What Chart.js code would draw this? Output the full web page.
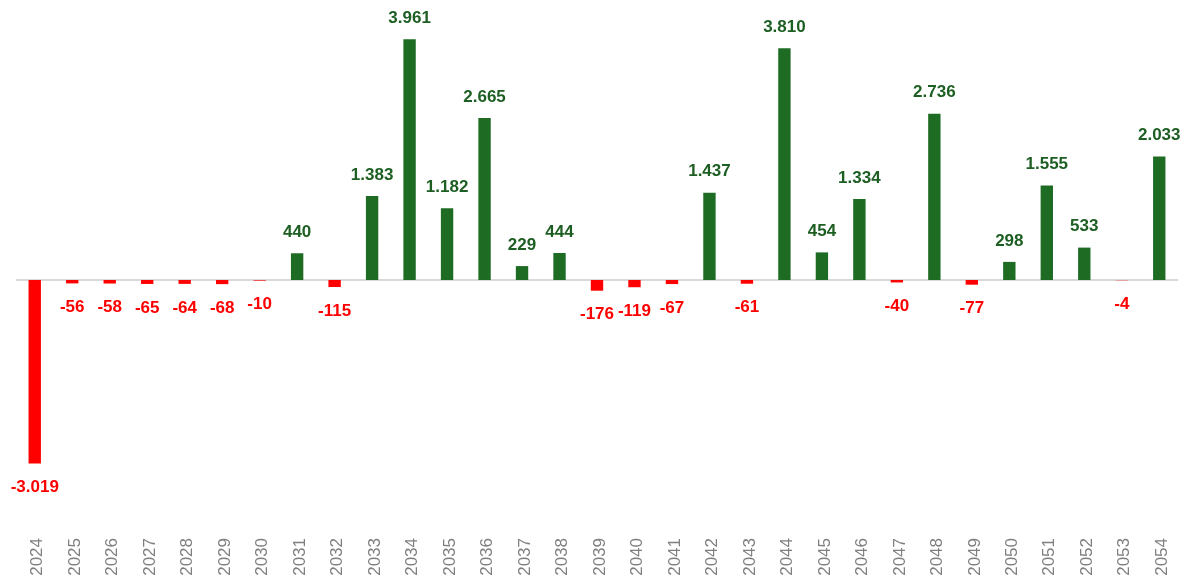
<!DOCTYPE html>
<html>
<head>
<meta charset="utf-8">
<script src="https://cdn.jsdelivr.net/npm/chart.js@4"></script>
<style>
  html, body { margin: 0; padding: 0; background: #ffffff; }
  #wrap { width: 1189px; height: 576px; position: relative; }
</style>
</head>
<body>
<div id="wrap"><canvas id="chart"></canvas></div>
<script>
const years = ['2024', '2025', '2026', '2027', '2028', '2029', '2030', '2031', '2032', '2033',
    '2034', '2035', '2036', '2037', '2038', '2039', '2040', '2041', '2042', '2043',
    '2044', '2045', '2046', '2047', '2048', '2049', '2050', '2051', '2052', '2053', '2054'];

const values = [-3019, -56, -58, -65, -64, -68, -10, 440, -115, 1383,
    3961, 1182, 2665, 229, 444, -176, -119, -67, 1437, -61,
    3810, 454, 1334, -40, 2736, -77, 298, 1555, 533, -4, 2033];

const GREEN = '#1e6b24';
const GREEN_TEXT = '#1d5e22';
const RED = '#ff0000';

// thousands separator is a dot, like 3.961
function fmt(v) {
    const s = Math.abs(v).toString().replace(/\B(?=(\d{3})+(?!\d))/g, '.');
    return (v < 0 ? '-' : '') + s;
}

// gray zero line across the plot
const zeroLine = {
    id: 'zeroLine',
    beforeDatasetsDraw(chart) {
        const { ctx, chartArea, scales } = chart;
        const y = scales.y.getPixelForValue(0);
        ctx.save();
        ctx.strokeStyle = '#d9d9d9';
        ctx.lineWidth = 2;
        ctx.beginPath();
        ctx.moveTo(chartArea.left, y);
        ctx.lineTo(chartArea.right, y);
        ctx.stroke();
        ctx.restore();
    }
};

// value labels above / below each bar
const barLabels = {
    id: 'barLabels',
    afterDatasetsDraw(chart) {
        const { ctx } = chart;
        const meta = chart.getDatasetMeta(0);
        ctx.save();
        ctx.font = 'bold 17px "Liberation Sans", Arial, sans-serif';
        ctx.textAlign = 'center';
        ctx.textBaseline = 'middle';
        meta.data.forEach((bar, i) => {
            const v = values[i];
            if (v >= 0) {
                ctx.fillStyle = GREEN_TEXT;
                ctx.fillText(fmt(v), bar.x, bar.y - 21);
            } else {
                ctx.fillStyle = RED;
                ctx.fillText(fmt(v), bar.x, bar.y + 24);
            }
        });
        ctx.restore();
    }
};

new Chart(document.getElementById('chart'), {
    type: 'bar',
    data: {
        labels: years,
        datasets: [{
            data: values,
            backgroundColor: values.map(v => v < 0 ? RED : GREEN),
            barPercentage: 0.33,
            categoryPercentage: 1.0,
            borderWidth: 0
        }]
    },
    options: {
        responsive: true,
        maintainAspectRatio: false,
        animation: false,
        layout: { padding: { top: 10, left: 16, right: 11, bottom: 0 } },
        plugins: {
            legend: { display: false },
            tooltip: { enabled: false }
        },
        scales: {
            x: {
                grid: { display: false },
                border: { display: false },
                ticks: {
                    color: '#7f7f7f',
                    font: { family: '"Liberation Sans", Arial, sans-serif', size: 17 },
                    minRotation: 90,
                    maxRotation: 90,
                    autoSkip: false,
                    padding: 0,
                    labelOffset: 3
                },
                afterFit(scale) { scale.height = 46; }
            },
            y: {
                display: false,
                min: -4112,
                max: 4441
            }
        }
    },
    plugins: [zeroLine, barLabels]
});
</script>
</body>
</html>
